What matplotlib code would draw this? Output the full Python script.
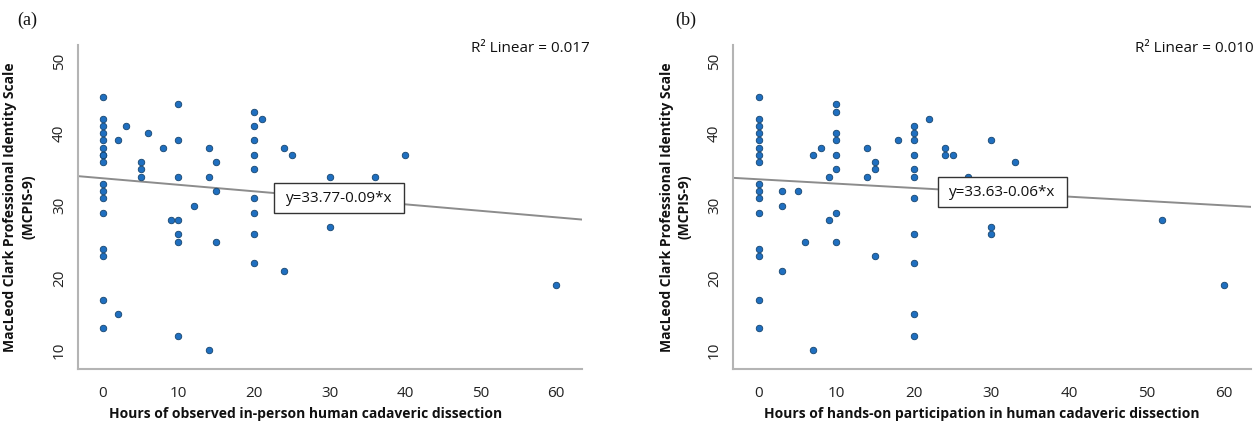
import matplotlib
matplotlib.use("Agg")
import matplotlib.pyplot as plt
import numpy as np

# Panel (a): hours of observed in-person dissection vs MCPIS-9
obs_hours = [0,0,0,0,0,0,0,0,0,0,0,0,0,0,0,0,0,
             2,2,3,5,5,5,6,8,9,
             10,10,10,10,10,10,10,12,14,14,14,15,15,15,
             20,20,20,20,20,20,20,20,20,21,24,24,25,
             30,30,36,40,60]
obs_score = [45,42,41,40,39,38,37,37,36,33,32,31,29,24,23,17,13,
             39,15,41,36,35,34,40,38,28,
             44,39,34,28,26,25,12,30,38,34,10,36,32,25,
             43,41,39,37,35,31,29,26,22,42,38,21,37,
             34,27,34,37,19]

# Panel (b): hours of hands-on participation vs MCPIS-9
hands_hours = [0,0,0,0,0,0,0,0,0,0,0,0,0,0,0,0,
               3,3,3,5,6,7,7,8,9,9,
               10,10,10,10,10,10,10,10,14,14,15,15,15,18,
               20,20,20,20,20,20,20,20,20,20,20,22,24,24,25,27,
               30,30,30,33,52,60]
hands_score = [45,42,41,40,39,38,37,36,33,32,31,29,24,23,17,13,
               32,30,21,32,25,37,10,38,34,28,
               44,43,40,39,37,35,29,25,38,34,36,35,23,39,
               41,40,39,37,35,34,31,26,22,15,12,42,38,37,37,34,
               39,27,26,36,28,19]

panel_letters = ["(a)", "(b)"]
x_labels = ["Hours of observed in-person human cadaveric dissection",
            "Hours of hands-on participation in human cadaveric dissection"]
y_label = "MacLeod Clark Professional Identity Scale\n(MCPIS-9)"
intercepts = [33.77, 33.63]
slopes = [-0.09, -0.06]
eq_texts = ["y=33.77-0.09*x", "y=33.63-0.06*x"]
r2_texts = ["R\u00b2 Linear = 0.017", "R\u00b2 Linear = 0.010"]
x_ticks = [0, 10, 20, 30, 40, 50, 60]
y_ticks = [10, 20, 30, 40, 50]

plt.rcParams['font.family'] = ['Open Sans', 'DejaVu Sans']

W, H = 1255, 424
fig = plt.figure(figsize=(W/100, H/100), dpi=100)

def px_axes(l, r, t, b):
    return [l/W, 1 - b/H, (r-l)/W, (b-t)/H]

axes_px = [(78, 582, 45, 369), (733, 1251, 45, 369)]
xlims = [(-3.3, 63.4), (-3.35, 63.5)]
ylim = (7.4, 52.2)
xlabel_pos = [0.452, 0.481]
eq_pos = [(274, 404, 183, 213), (938, 1067, 177, 207)]
letter_px = [(17, 20), (675, 20)]
r2_px = [(590, 49), (1254, 49)]

datasets = [(obs_hours, obs_score), (hands_hours, hands_score)]

spine_col = "#b4b4b4"
for i in range(2):
    ax = fig.add_axes(px_axes(*axes_px[i]))
    xs, ys = datasets[i]
    ax.set_xlim(*xlims[i])
    ax.set_ylim(*ylim)
    xl = np.array(ax.get_xlim())
    ax.plot(xl, intercepts[i] + slopes[i]*xl, color="#8c8c8c", lw=1.4, zorder=2)
    ax.scatter(xs, ys, s=22, color="#1f6fc0", edgecolors="#17456e",
               linewidths=0.6, zorder=3)
    for s in ["top", "right"]:
        ax.spines[s].set_visible(False)
    for s in ["left", "bottom"]:
        ax.spines[s].set_color(spine_col)
        ax.spines[s].set_linewidth(1.5)
    ax.set_xticks(x_ticks)
    ax.set_yticks(y_ticks)
    ax.tick_params(axis="both", length=0, labelsize=11, labelcolor="#222222")
    ax.tick_params(axis="x", pad=12)
    ax.tick_params(axis="y", pad=8)
    for lab in ax.get_yticklabels():
        lab.set_rotation(90)
        lab.set_va("center")
    ax.set_xlabel(x_labels[i], fontsize=10, fontweight="bold", color="#111111")
    ax.xaxis.set_label_coords(xlabel_pos[i], -0.118)
    ax.set_ylabel(y_label, fontsize=10, fontweight="bold", color="#111111",
                  linespacing=1.35)
    ax.yaxis.set_label_coords(-0.085 if i == 0 else -0.08, 0.5)
    ax.patch.set_visible(False)

    # equation box
    l, r, t, b = eq_pos[i]
    fig.patches.append(plt.Rectangle((l/W, 1-b/H), (r-l)/W, (b-t)/H,
                                     transform=fig.transFigure, facecolor="white",
                                     edgecolor="#333333", lw=1.0, zorder=5))
    fig.text((l+r)/2/W, 1-(t+b)/2/H, eq_texts[i], ha="center", va="center",
             fontsize=11, color="#111111", zorder=6)
    fig.text(r2_px[i][0]/W, 1-r2_px[i][1]/H, r2_texts[i], ha="right", va="center",
             fontsize=11, color="#111111")
    fig.text(letter_px[i][0]/W, 1-letter_px[i][1]/H, panel_letters[i], ha="left",
             va="center", fontsize=13, family="Liberation Serif", color="#111111")

fig.savefig("out.png", dpi=100)
